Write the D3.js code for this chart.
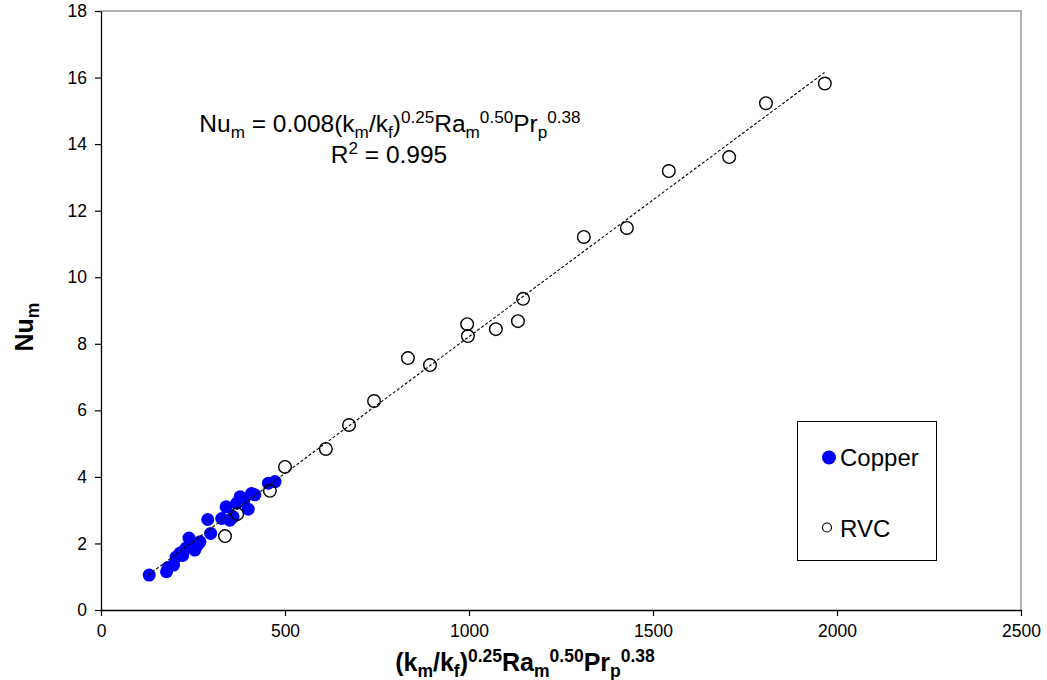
<!DOCTYPE html>
<html>
<head>
<meta charset="utf-8">
<script src="https://cdn.jsdelivr.net/npm/d3@7/dist/d3.min.js"></script>
<style>
  body { margin: 0; background: #fff; }
  svg { display: block; font-family: "Liberation Sans", Arial, sans-serif; }
</style>
</head>
<body>
<svg id="chart" width="1047" height="680"></svg>
<script>
// ---- data ----
const copperX = [131, 178, 182, 197, 204, 215, 222, 231, 239, 255, 262, 269, 290, 298, 328, 340, 350, 359, 369, 378, 388, 400, 409, 418, 455, 473];
const copperY = [1.05, 1.15, 1.27, 1.35, 1.59, 1.71, 1.64, 1.86, 2.16, 1.80, 1.95, 2.05, 2.72, 2.30, 2.75, 3.10, 2.70, 2.80, 3.21, 3.40, 3.30, 3.03, 3.50, 3.46, 3.81, 3.86];
const rvcX = [337, 370, 459, 500, 611, 674, 742, 834, 894, 995, 997, 1073, 1133, 1147, 1312, 1429, 1543, 1707, 1807, 1967];
const rvcY = [2.22, 2.88, 3.58, 4.30, 4.84, 5.56, 6.28, 7.57, 7.36, 8.59, 8.23, 8.44, 8.68, 9.35, 11.21, 11.48, 13.19, 13.61, 15.23, 15.82];
const trendX = [128, 1966];
const trendY = [1.05, 16.15];
const xTicks = [0, 500, 1000, 1500, 2000, 2500];
const yTicks = [0, 2, 4, 6, 8, 10, 12, 14, 16, 18];
const seriesNames = ["Copper", "RVC"];

(function () {
// ---- layout ----
const svg = d3.select("#chart");
const mL = 101, mR = 1021, mT = 11, mB = 610;
const x = d3.scaleLinear().domain([0, 2500]).range([mL, mR]);
const y = d3.scaleLinear().domain([0, 18]).range([mB, mT]);

// plot border (top/right grey)
svg.append("path")
  .attr("d", `M${mL},${mT}H${mR}V${mB}`)
  .attr("fill", "none").attr("stroke", "#999").attr("stroke-width", 1.5);

// axes
const xAxis = svg.append("g").attr("transform", `translate(0,${mB})`)
  .call(d3.axisBottom(x).tickValues(xTicks).tickSize(6).tickSizeOuter(0).tickPadding(9).tickFormat(d3.format("d")));
const yAxis = svg.append("g").attr("transform", `translate(${mL},0)`)
  .call(d3.axisLeft(y).tickValues(yTicks).tickSize(6).tickSizeOuter(0).tickPadding(8).tickFormat(d3.format("d")));
[xAxis, yAxis].forEach(g => {
  g.select(".domain").attr("stroke", "#000").attr("stroke-width", 1.3);
  g.selectAll(".tick line").attr("stroke", "#000").attr("stroke-width", 1.2);
  g.selectAll(".tick text").attr("font-size", 17.5).attr("fill", "#000")
    .attr("font-family", "'Liberation Sans', Arial, sans-serif");
});

// data series
const copper = copperX.map((v, i) => [v, copperY[i]]);
const rvc = rvcX.map((v, i) => [v, rvcY[i]]);

svg.append("g").selectAll("circle").data(copper).join("circle")
  .attr("cx", d => x(d[0])).attr("cy", d => y(d[1])).attr("r", 6.5)
  .attr("fill", "#0000ff");

svg.append("g").selectAll("circle").data(rvc).join("circle")
  .attr("cx", d => x(d[0])).attr("cy", d => y(d[1])).attr("r", 6.3)
  .attr("fill", "none").attr("stroke", "#000").attr("stroke-width", 1.4);

// trend line
svg.append("line")
  .attr("x1", x(trendX[0])).attr("y1", y(trendY[0]))
  .attr("x2", x(trendX[1])).attr("y2", y(trendY[1]))
  .attr("stroke", "#000").attr("stroke-width", 1.1).attr("stroke-dasharray", "3,2");

// rich text with sub/superscripts; positions tracked in px
function rich(t, size, parts) {
  const small = size * 0.7;
  let cur = 0; // current baseline offset in px (positive = down)
  parts.forEach(p => {
    const kind = p[1] || "n";
    const target = kind === "sub" ? small * 0.33 : kind === "sup" ? -size * 0.36 : 0;
    const ts = t.append("tspan").text(p[0])
      .attr("font-size", kind === "n" ? size : small);
    const dy = target - cur;
    if (dy !== 0) ts.attr("dy", dy);
    cur = target;
  });
}

const eq = svg.append("text").attr("x", 390).attr("y", 132).attr("text-anchor", "middle").attr("fill", "#000");
rich(eq, 24.5, [
  ["Nu"], ["m", "sub"], [" = 0.008(k"], ["m", "sub"], ["/k"], ["f", "sub"],
  [")"], ["0.25", "sup"], ["Ra"], ["m", "sub"], ["0.50", "sup"],
  ["Pr"], ["p", "sub"], ["0.38", "sup"]
]);

const r2 = svg.append("text").attr("x", 389).attr("y", 163).attr("text-anchor", "middle").attr("fill", "#000");
rich(r2, 24.5, [["R"], ["2", "sup"], [" = 0.995"]]);

// x axis title
const xt = svg.append("text").attr("x", 525).attr("y", 671).attr("text-anchor", "middle")
  .attr("font-weight", "bold").attr("fill", "#000");
rich(xt, 25, [
  ["(k"], ["m", "sub"], ["/k"], ["f", "sub"], [")"], ["0.25", "sup"],
  ["Ra"], ["m", "sub"], ["0.50", "sup"], ["Pr"], ["p", "sub"], ["0.38", "sup"]
]);

// y axis title
const yt = svg.append("text").attr("transform", "translate(33,327) rotate(-90)")
  .attr("text-anchor", "middle").attr("font-weight", "bold").attr("fill", "#000");
rich(yt, 25, [["Nu"], ["m", "sub"]]);

// legend
const lg = svg.append("g");
lg.append("rect").attr("x", 797.5).attr("y", 421.5).attr("width", 139).attr("height", 139)
  .attr("fill", "#fff").attr("stroke", "#000").attr("stroke-width", 1);
lg.append("circle").attr("cx", 829).attr("cy", 457.5).attr("r", 7).attr("fill", "#0000ff");
lg.append("text").attr("x", 840).attr("y", 466).attr("font-size", 24).attr("fill", "#000").text(seriesNames[0]);
lg.append("circle").attr("cx", 827).attr("cy", 527.5).attr("r", 4.5).attr("fill", "none")
  .attr("stroke", "#000").attr("stroke-width", 1.2);
lg.append("text").attr("x", 840).attr("y", 537).attr("font-size", 24).attr("fill", "#000").text(seriesNames[1]);
})();
</script>
</body>
</html>
